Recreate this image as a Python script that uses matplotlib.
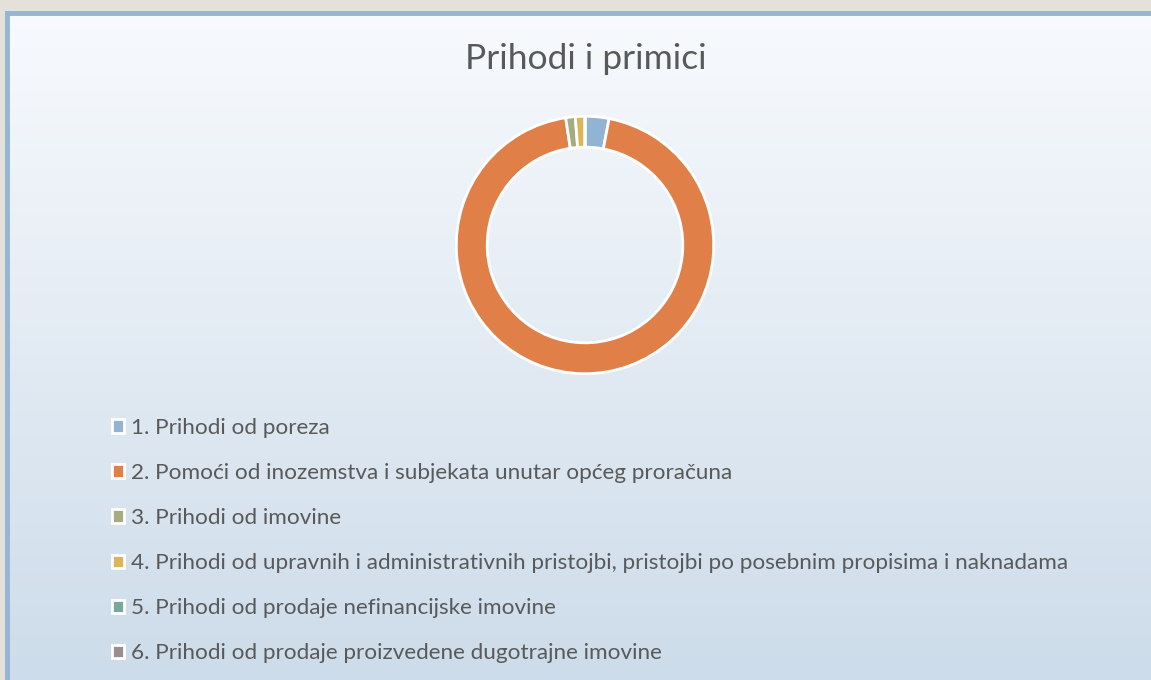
import numpy as np
import matplotlib.pyplot as plt
from matplotlib.patches import Patch

# data (share of total, %)
categories = [
    "1. Prihodi od poreza",
    "2. Pomoći od inozemstva i subjekata unutar općeg proračuna",
    "3. Prihodi od imovine",
    "4. Prihodi od upravnih i administrativnih pristojbi, pristojbi po posebnim propisima i naknadama",
    "5. Prihodi od prodaje nefinancijske imovine",
    "6. Prihodi od prodaje proizvedene dugotrajne imovine",
]
shares = [3.0, 94.6, 1.2, 1.2, 0.0, 0.0]
colors = ["#91b3d4", "#e07f47", "#a4ad7f", "#ddb456", "#77a99a", "#9a8e8e"]
title = "Prihodi i primici"

W, H = 1151, 680
fig = plt.figure(figsize=(W / 100, H / 100), dpi=100)
fig.patch.set_facecolor("#e4e1db")

def px(x, y, w, h):
    # pixel box (top-left origin) -> figure fraction
    return [x / W, 1 - (y + h) / H, w / W, h / H]

# chart area with vertical gradient
bg = fig.add_axes(px(7, 13, W - 7, H - 13))
grad = np.linspace(0, 1, 256).reshape(-1, 1)
top = np.array([0xf8, 0xfa, 0xfd]) / 255
bot = np.array([0xcd, 0xdc, 0xea]) / 255
img = top + grad[..., None] * (bot - top)
bg.imshow(img, aspect="auto", extent=[0, 1, 0, 1])
bg.set_xticks([])
bg.set_yticks([])
for s in ["right", "bottom"]:
    bg.spines[s].set_visible(False)
for s in ["left", "top"]:
    bg.spines[s].set_color("#94b5d3")
    bg.spines[s].set_linewidth(3.5)

fig.text(586 / W, 1 - 59 / H, title,
         ha="center", va="center", fontsize=25.5, color="#595959",
         family=["Lato", "DejaVu Sans"])

# donut
ax = fig.add_axes(px(455, 115, 260, 260))
ax.pie(shares, colors=colors, startangle=90, counterclock=False,
       radius=1, wedgeprops=dict(width=0.24, edgecolor="white", linewidth=2))
ax.set_xlim(-1.01, 1.01)
ax.set_ylim(-1.01, 1.01)
ax.set_aspect("equal")
ax.axis("off")

handles = [Patch(facecolor=c, edgecolor="white", linewidth=2) for c in colors]
leg = fig.legend(handles, categories, loc="upper left",
                 bbox_to_anchor=(112 / W, 1 - 418 / H),
                 frameon=False, labelcolor="#595959",
                 borderpad=0, borderaxespad=0,
                 handlelength=0.55, handleheight=0.55, handletextpad=0.3,
                 labelspacing=1.115, prop=dict(family=["Lato", "DejaVu Sans"], size=16.2))

fig.savefig("out.png", dpi=100)
